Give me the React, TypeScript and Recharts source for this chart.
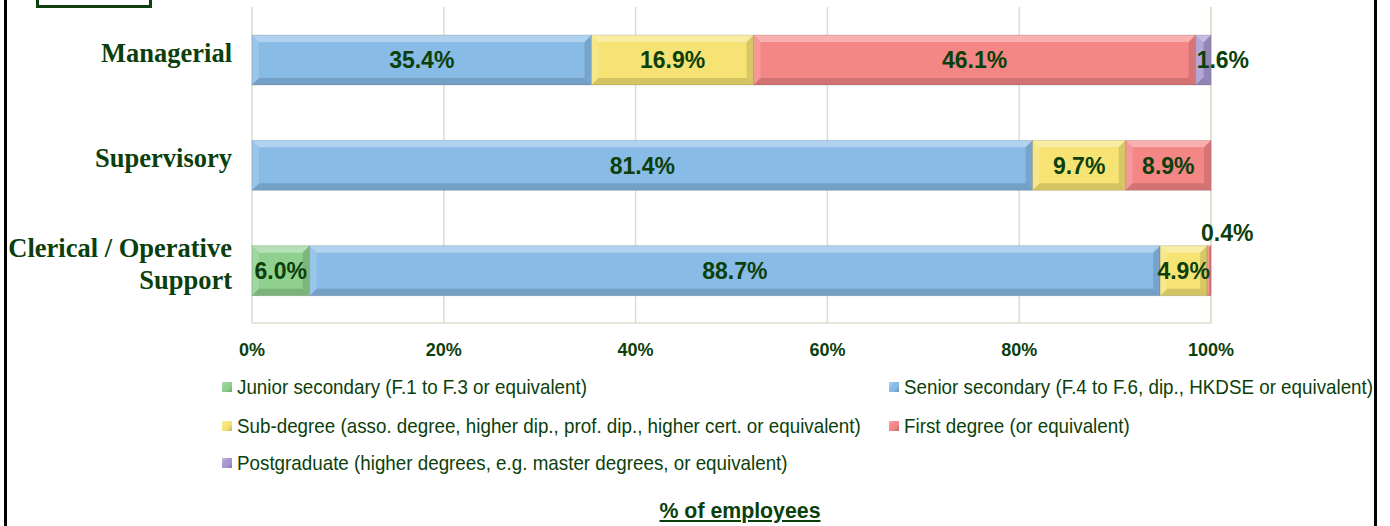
import React from 'react';
import { BarChart, Bar, XAxis, YAxis, CartesianGrid, LabelList } from 'recharts';

const categories = ['Managerial', 'Supervisory', 'Clerical / Operative Support'];
const junior = [null, null, 6.0];
const senior = [35.4, 81.4, 88.7];
const subDegree = [16.9, 9.7, 4.9];
const firstDegree = [46.1, 8.9, 0.4];
const postgrad = [1.6, null, null];
const xTicks = [0, 20, 40, 60, 80, 100];

const seriesKeys = ['junior', 'senior', 'subDegree', 'firstDegree', 'postgrad'];
const seriesNames = [
  'Junior secondary (F.1 to F.3 or equivalent)',
  'Senior secondary (F.4 to F.6, dip., HKDSE or equivalent)',
  'Sub-degree (asso. degree, higher dip., prof. dip., higher cert. or equivalent)',
  'First degree (or equivalent)',
  'Postgraduate (higher degrees, e.g. master degrees, or equivalent)',
];
const seriesColors = ['#8fd08f', '#88bbe6', '#f6e374', '#f48686', '#a898cf'];
const seriesValues = [junior, senior, subDegree, firstDegree, postgrad];

const data = categories.map((c, i) => {
  const row: any = { category: c };
  seriesKeys.forEach((k, j) => {
    row[k] = seriesValues[j][i];
  });
  return row;
});

const GREEN = '#0b3f0b';

const BevelBar = (props: any) => {
  const { x, y, width, height, fill } = props;
  if (!width || width <= 0 || !height) return null;
  const b = Math.min(7, width / 2, height / 2);
  const x2 = x + width;
  const y2 = y + height;
  return (
    <g>
      <rect x={x} y={y} width={width} height={height} fill={fill} />
      <polygon points={`${x},${y} ${x2},${y} ${x2 - b},${y + b} ${x + b},${y + b}`} fill="#ffffff" fillOpacity={0.35} />
      <polygon points={`${x},${y2} ${x2},${y2} ${x2 - b},${y2 - b} ${x + b},${y2 - b}`} fill="#000000" fillOpacity={0.14} />
      <polygon points={`${x},${y} ${x + b},${y + b} ${x + b},${y2 - b} ${x},${y2}`} fill="#ffffff" fillOpacity={0.15} />
      <polygon points={`${x2},${y} ${x2 - b},${y + b} ${x2 - b},${y2 - b} ${x2},${y2}`} fill="#000000" fillOpacity={0.12} />
      <rect x={x} y={y} width={width} height={height} fill="none" stroke="#000" strokeOpacity={0.12} />
    </g>
  );
};

const labelStyle = {
  fontFamily: "'Liberation Sans', Arial, sans-serif",
  fontWeight: 700,
  fontSize: 23,
  fill: GREEN,
};

const makeLabel = (key: string) => (props: any) => {
  const { x, y, width, height, value } = props;
  if (value === null || value === undefined || value === 0) return null;
  const txt = `${Number(value).toFixed(1)}%`;
  if (key === 'postgrad') {
    return (
      <text x={x + 1} y={y + height / 2} dy="0.36em" textAnchor="start" style={labelStyle as any}>
        {txt}
      </text>
    );
  }
  if (value < 1) {
    return (
      <text x={x + width / 2 - 8} y={y - 13} dy="0.36em" textAnchor="start" style={labelStyle as any}>
        {txt}
      </text>
    );
  }
  return (
    <text x={x + width / 2} y={y + height / 2} dy="0.36em" textAnchor="middle" style={labelStyle as any}>
      {txt}
    </text>
  );
};

const CategoryTick = (props: any) => {
  const { x, y, payload } = props;
  const value: string = payload.value;
  const lines = value === 'Clerical / Operative Support' ? ['Clerical / Operative', 'Support'] : [value];
  const lh = 32;
  const startY = y - 7 - ((lines.length - 1) * lh) / 2;
  return (
    <text
      x={x}
      y={startY}
      textAnchor="end"
      style={{ fontFamily: "'Liberation Serif', 'Times New Roman', serif", fontWeight: 700, fontSize: 26.5, fill: GREEN }}
    >
      {lines.map((l, i) => (
        <tspan key={i} x={x} y={startY + i * lh} dy="0.35em">
          {l}
        </tspan>
      ))}
    </text>
  );
};

const legendFont = "'Liberation Sans', Arial, sans-serif";

const LegendBlock = () => {
  const rows = [
    [0, 1],
    [2, 3],
    [4],
  ];
  const colX = [222, 889];
  const rowY = [387, 426, 463];
  return (
    <>
      {rows.map((r, ri) =>
        r.map((si, ci) => (
          <div
            key={si}
            style={{
              position: 'absolute',
              left: colX[ci],
              top: rowY[ri] - 14,
              height: 28,
              display: 'flex',
              alignItems: 'center',
              whiteSpace: 'nowrap',
              fontFamily: legendFont,
              fontSize: 21,
              color: GREEN,
            }}
          >
            <span
              style={{
                display: 'inline-block',
                width: 10,
                height: 10,
                marginRight: 5,
                background: `linear-gradient(135deg, #ffffff55, ${seriesColors[si]} 40%, ${seriesColors[si]} 60%, #00000033)`,
                backgroundColor: seriesColors[si],
              }}
            />
            <span style={{ display: 'inline-block', transform: 'scaleX(0.895)', transformOrigin: 'left center' }}>
              {seriesNames[si]}
            </span>
          </div>
        ))
      )}
      <div
        style={{
          position: 'absolute',
          left: 540,
          width: 400,
          top: 511 - 14,
          height: 28,
          lineHeight: '28px',
          textAlign: 'center',
          fontFamily: legendFont,
          fontWeight: 700,
          fontSize: 21.3,
          color: GREEN,
          textDecoration: 'underline',
          whiteSpace: 'nowrap',
        }}
      >
        % of employees
      </div>
    </>
  );
};

export default function App() {
  return (
    <div style={{ position: 'absolute', left: 0, top: 0, width: 1390, height: 526, background: '#fff', overflow: 'hidden' }}>
      <BarChart
        width={1390}
        height={526}
        data={data}
        layout="vertical"
        margin={{ top: 7, right: 179, bottom: 173, left: 0 }}
        barCategoryGap={0}
      >
        <CartesianGrid horizontal={false} vertical stroke="#deddcc" strokeWidth={1.5} />
        <XAxis
          type="number"
          domain={[0, 100]}
          ticks={xTicks}
          tickFormatter={(v: number) => `${v}%`}
          axisLine={{ stroke: '#deddcc', strokeWidth: 1.5 }}
          tickLine={false}
          tickMargin={14}
          height={30}
          tick={{ fill: GREEN, fontFamily: "'Liberation Sans', Arial, sans-serif", fontWeight: 700, fontSize: 18 }}
        />
        <YAxis
          type="category"
          dataKey="category"
          width={252}
          axisLine={false}
          tickLine={false}
          tickSize={0}
          tickMargin={20}
          tick={<CategoryTick />}
        />
        {seriesKeys.map((k, i) => (
          <Bar
            key={k}
            dataKey={k}
            name={seriesNames[i]}
            stackId="a"
            fill={seriesColors[i]}
            barSize={50}
            isAnimationActive={false}
            shape={<BevelBar />}
          >
            <LabelList dataKey={k} content={makeLabel(k)} />
          </Bar>
        ))}
      </BarChart>
      <LegendBlock />
      <div style={{ position: 'absolute', left: 4, top: 0, width: 3, height: 526, background: '#000' }} />
      <div style={{ position: 'absolute', left: 1374, top: 0, width: 3, height: 526, background: '#000' }} />
      <div
        style={{
          position: 'absolute',
          left: 36,
          top: -10,
          width: 110,
          height: 12,
          border: '3px solid #0f3f0f',
        }}
      />
    </div>
  );
}
